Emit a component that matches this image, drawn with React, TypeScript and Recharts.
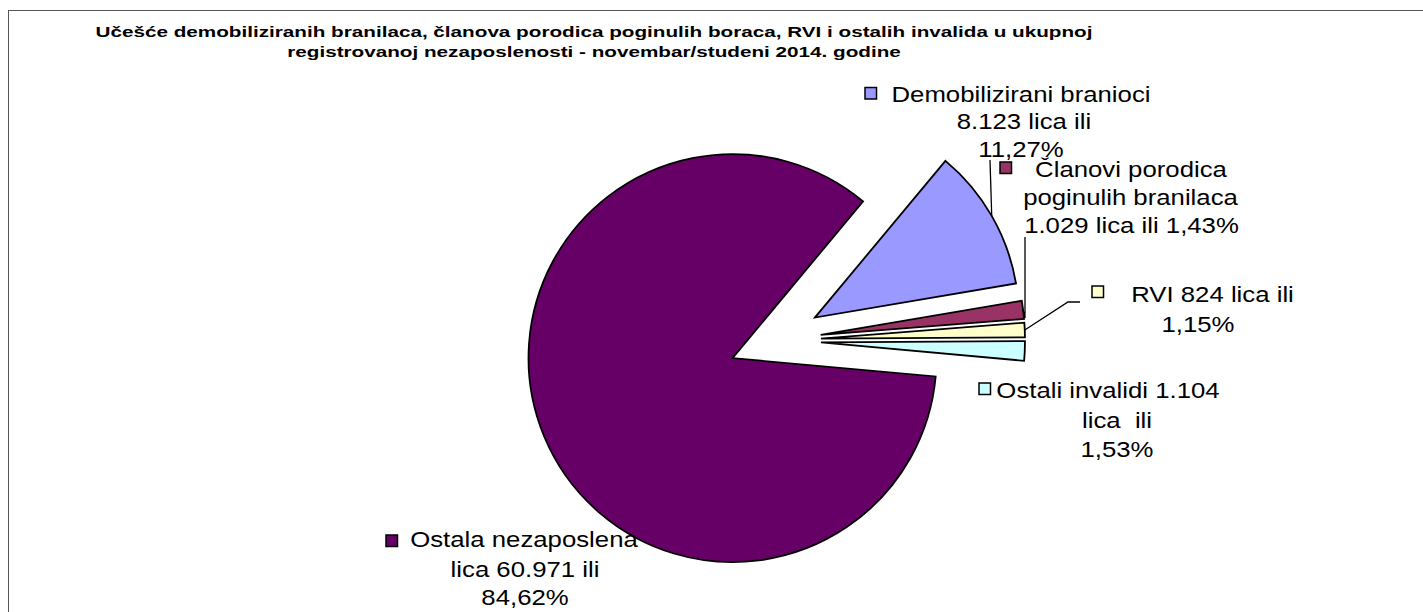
import React from 'react';
import { PieChart, Pie, Cell, Sector } from 'recharts';

// ---- data ----
const categories = [
  'Demobilizirani branioci',
  'Članovi porodica poginulih branilaca',
  'RVI',
  'Ostali invalidi',
  'Ostala nezaposlena lica',
];
const values = [8123, 1029, 824, 1104, 60971];
const labelLines: string[][] = [
  ['Demobilizirani branioci', '8.123 lica ili', '11,27%'],
  ['Članovi porodica', 'poginulih branilaca', '1.029 lica ili 1,43%'],
  ['RVI 824 lica ili', '1,15%'],
  ['Ostali invalidi 1.104', 'lica  ili', '1,53%'],
  ['Ostala nezaposlena', 'lica 60.971 ili', '84,62%'],
];
const titleLines = [
  'Učešće demobiliziranih branilaca, članova porodica poginulih boraca, RVI i ostalih invalida u ukupnoj',
  'registrovanoj nezaposlenosti - novembar/studeni 2014. godine',
];

// ---- styles / layout ----
const sliceColors = ['#9999FF', '#993366', '#FFFFCC', '#CCFFFF', '#660066'];
const EXPLODE = 46;
const RAD = Math.PI / 180;
const FONT = '"Liberation Sans", Arial, sans-serif';

type LabelLayout = {
  key: [number, number];
  lines: [number, number][];
  leader?: [number, number][];
};
const labelLayout: LabelLayout[] = [
  { key: [865, 87.5], lines: [[1021, 102], [1024, 129.5], [1021, 157]], leader: [[990, 160]] },
  { key: [1000, 162], lines: [[1131, 177], [1130.5, 205], [1131.5, 233]], leader: [[1025, 318], [1025, 237]] },
  { key: [1092, 286], lines: [[1212.5, 302], [1198, 332]], leader: [[1068, 302], [1080, 302]] },
  { key: [979, 383], lines: [[1108, 398], [1117, 428], [1117, 457]] },
  { key: [386, 535], lines: [[524, 547], [525, 577], [525, 605]] },
];

const data = categories.map((name, i) => ({ name, value: values[i] }));

const renderSlice = (props: any) => {
  const { cx, cy, midAngle, innerRadius, outerRadius, startAngle, endAngle, fill } = props;
  const dx = EXPLODE * Math.cos(midAngle * RAD);
  const dy = -EXPLODE * Math.sin(midAngle * RAD);
  return (
    <Sector
      cx={cx + dx}
      cy={cy + dy}
      innerRadius={innerRadius}
      outerRadius={outerRadius}
      startAngle={startAngle}
      endAngle={endAngle}
      fill={fill}
      stroke="#000"
      strokeWidth={1.8}
    />
  );
};

const renderLabel = (props: any) => {
  const { cx, cy, midAngle, outerRadius, index } = props;
  const lay = labelLayout[index];
  const d = EXPLODE + outerRadius;
  const ax = cx + d * Math.cos(midAngle * RAD);
  const ay = cy - d * Math.sin(midAngle * RAD);
  return (
    <g key={`lbl-${index}`}>
      {lay.leader && (
        <polyline
          points={[[ax, ay], ...lay.leader].map((p) => p.join(',')).join(' ')}
          fill="none"
          stroke="#000"
          strokeWidth={1.3}
        />
      )}
      {labelLines[index].map((t, j) => {
        const [x, y] = lay.lines[j];
        return (
          <text
            key={j}
            x={x}
            y={y}
            textAnchor="middle"
            fontSize={23}
            fontFamily={FONT}
            fill="#000"
            style={{ whiteSpace: 'pre' }}
            transform={`translate(${x} 0) scale(1.12 1) translate(${-x} 0)`}
          >
            {t}
          </text>
        );
      })}
      <rect
        x={lay.key[0]}
        y={lay.key[1]}
        width={11.5}
        height={11.5}
        fill={sliceColors[index]}
        stroke="#000"
        strokeWidth={1.5}
      />
    </g>
  );
};

export default function App() {
  return (
    <div
      style={{
        position: 'absolute',
        left: 0,
        top: 0,
        width: 1423,
        height: 612,
        overflow: 'hidden',
        background: '#fff',
      }}
    >
      <div
        style={{
          position: 'absolute',
          left: 8,
          top: 10,
          width: 1500,
          height: 700,
          borderTop: '1px solid #555',
          borderLeft: '1px solid #555',
        }}
      />
      <div
        style={{
          position: 'absolute',
          left: 0,
          top: 22,
          width: 1188,
          textAlign: 'center',
          fontFamily: FONT,
          fontWeight: 'bold',
          fontSize: 15.5,
          lineHeight: '20px',
          color: '#000',
          transform: 'scaleX(1.334)',
          transformOrigin: '594px 0',
          whiteSpace: 'nowrap',
        }}
      >
        {titleLines.map((t, i) => (
          <div key={i}>{t}</div>
        ))}
      </div>
      <div style={{ position: 'absolute', left: 0, top: 0 }}>
        <PieChart width={1423} height={612} margin={{ top: 0, right: 0, bottom: 0, left: 0 }}>
          <Pie
            data={data}
            dataKey="value"
            nameKey="name"
            cx={775}
            cy={340.5}
            innerRadius={0}
            outerRadius={204}
            startAngle={50.2}
            endAngle={-309.8}
            isAnimationActive={false}
            shape={renderSlice}
            activeShape={renderSlice}
            inactiveShape={renderSlice}
            label={renderLabel}
            labelLine={false}
            stroke="#000"
          >
            {data.map((_, i) => (
              <Cell key={i} fill={sliceColors[i]} />
            ))}
          </Pie>
        </PieChart>
      </div>
    </div>
  );
}
